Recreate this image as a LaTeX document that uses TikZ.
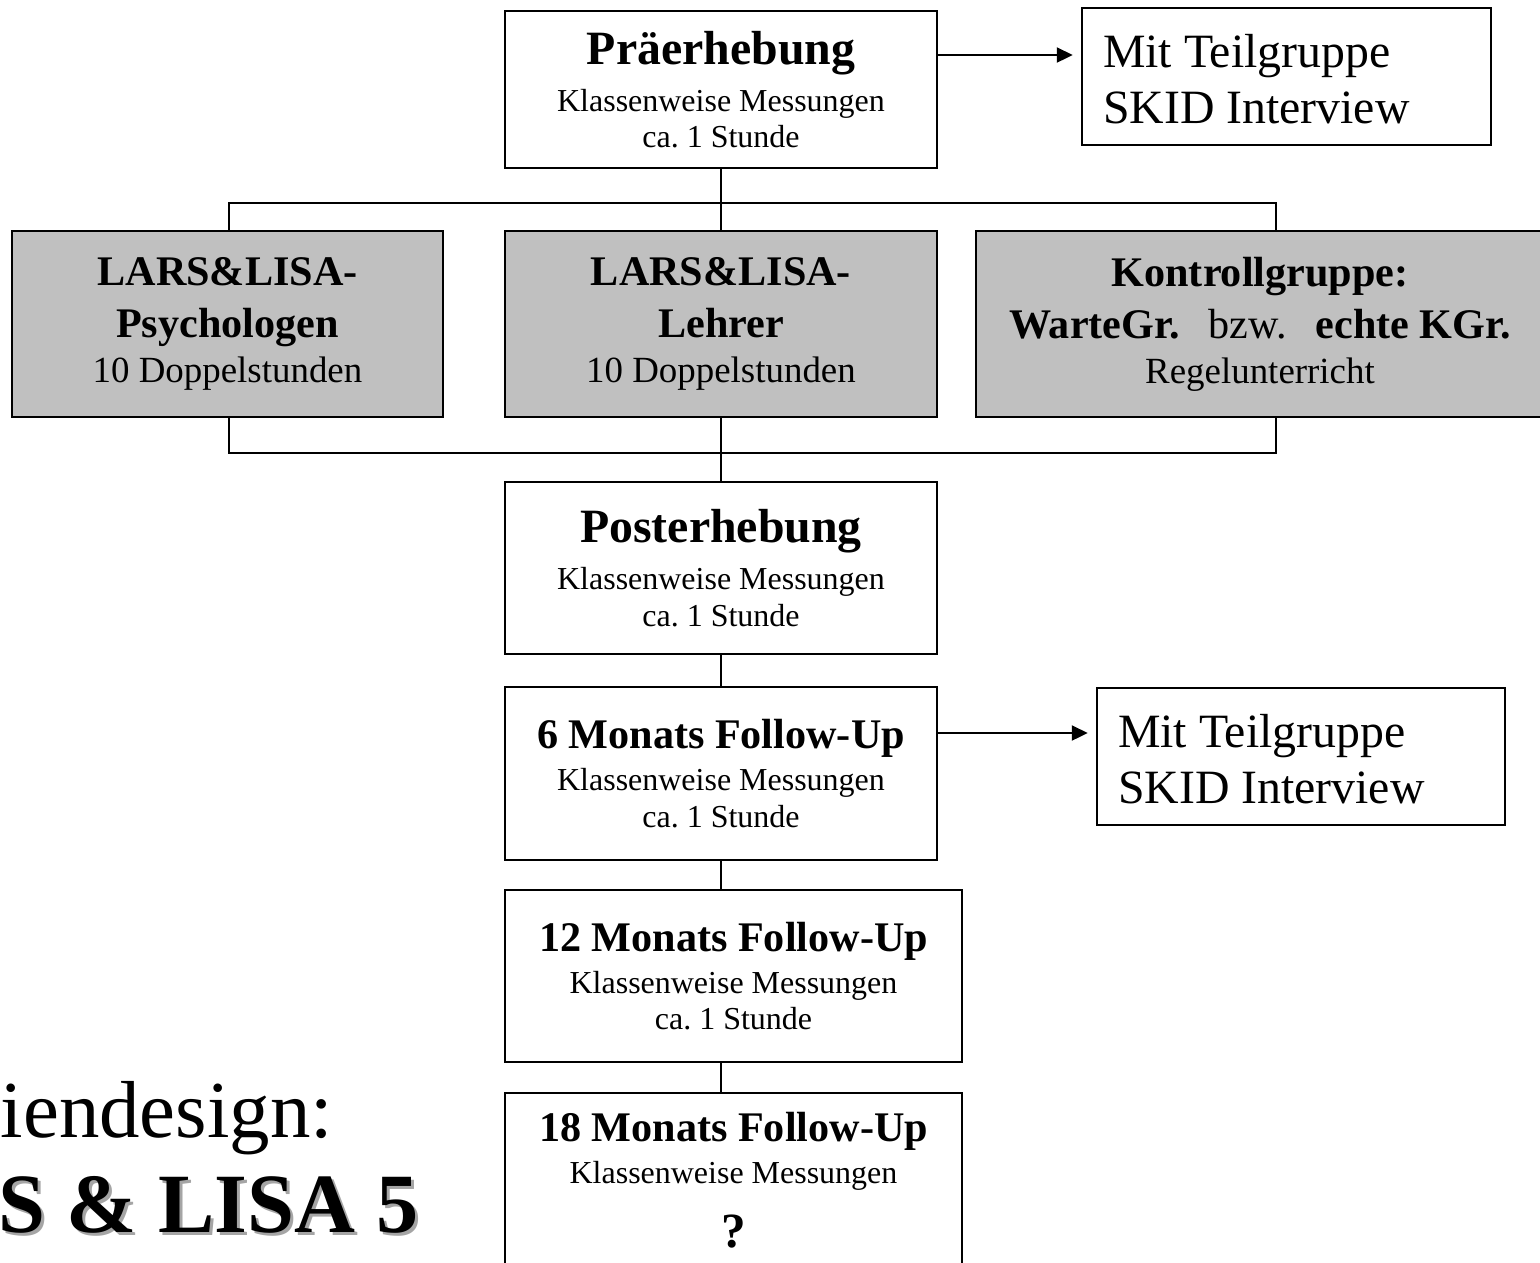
\documentclass[tikz,border=0pt]{standalone}
\usepackage{fontspec}
\setmainfont{Liberation Serif}
\usetikzlibrary{arrows.meta}
\frenchspacing
\definecolor{boxgray}{RGB}{192,192,192}
\definecolor{shadowgray}{RGB}{165,165,165}
\newcommand{\boxsmall}{\fontsize{9.1}{10.4}\selectfont}
\newcommand{\boxmid}{\fontsize{10.5}{12.8}\selectfont}
\newcommand{\bigtitle}[1]{{\fontsize{13.6}{16}\selectfont\bfseries #1}}
\newcommand{\grouptitle}[1]{{\fontsize{12}{14}\selectfont\bfseries #1}}
\begin{document}
\begin{tikzpicture}[x=0.1mm,y=-0.1mm,
  stagebox/.style={draw,line width=0.7pt,align=center,inner sep=0pt,minimum width=43.2mm,minimum height=17.2mm,font=\boxsmall},
  groupbox/.style={stagebox,fill=boxgray,minimum height=18.6mm,font=\boxmid},
  notebox/.style={draw,line width=0.7pt,align=flush left,inner xsep=2.1mm,inner ysep=0pt,text width=36.7mm,minimum height=13.7mm,font=\fontsize{13.6}{15.9}\selectfont},
  wire/.style={line width=0.6pt},
  pointer/.style={wire,-{Triangle[length=1.6mm,width=1.5mm]},shorten >=0.8mm}]
\useasboundingbox (0,0) rectangle (1540,1262);
% stages
\node (pre) [stagebox,minimum height=15.7mm] at (721,89.5) {\bigtitle{Präerhebung}\\[3pt]Klassenweise Messungen\\ca. 1 Stunde};
\node (sub1) [notebox] at (1286.5,76.5) {\rule{0pt}{11pt}Mit Teilgruppe\\SKID Interview};
\node (grp1) [groupbox,minimum width=43.1mm] at (227.5,324) {\grouptitle{LARS\&LISA-}\\[2pt]\grouptitle{Psychologen}\\10 Doppelstunden};
\node (grp2) [groupbox] at (721,324) {\grouptitle{LARS\&LISA-}\\[2pt]\grouptitle{Lehrer}\\10 Doppelstunden};
\node (grp3) [groupbox,minimum width=56.8mm] at (1260,324) {\grouptitle{Kontrollgruppe:}\\[2pt]\grouptitle{WarteGr.}\ \ \hspace{3pt}{\fontsize{12}{14}\selectfont bzw.}\ \ \hspace{3pt}\grouptitle{echte KGr.}\\Regelunterricht};
\node (post) [stagebox] at (721,568) {\bigtitle{Posterhebung}\\[3pt]Klassenweise Messungen\\ca. 1 Stunde};
\node (fu6) [stagebox,minimum height=17.3mm] at (721,773.5) {\grouptitle{6 Monats Follow-Up}\\[1.5pt]Klassenweise Messungen\\ca. 1 Stunde};
\node (sub2) [notebox,text width=36.6mm] at (1301,756.5) {\rule{0pt}{11pt}Mit Teilgruppe\\SKID Interview};
\node (fu12) [stagebox,minimum width=45.7mm] at (733.5,976) {\grouptitle{12 Monats Follow-Up}\\[1.5pt]Klassenweise Messungen\\ca. 1 Stunde};
\node (fu18) [stagebox,minimum width=45.7mm,minimum height=17.5mm] at (733.5,1180.5) {\grouptitle{18 Monats Follow-Up}\\[1.5pt]Klassenweise Messungen\\[6pt]{\fontsize{14}{16}\selectfont\bfseries ?}};
% connectors
\coordinate (tl) at (229,203);
\coordinate (tr) at (1276,203);
\coordinate (bl) at (229,453);
\coordinate (br) at (1276,453);
\draw[wire] (pre.south) -- (pre.south |- tl);
\draw[wire] (tl |- grp1.north) -- (tl) -- (tr) -- (tr |- grp3.north);
\draw[wire] (pre.south |- tl) -- (grp2.north);
\draw[wire] (bl |- grp1.south) -- (bl) -- (br) -- (br |- grp3.south);
\draw[wire] (grp2.south) -- (post.north);
\draw[wire] (post.south) -- (fu6.north);
\draw[wire] (fu6.south) -- (fu6.south |- fu12.north);
\draw[wire] (fu6.south |- fu12.south) -- (fu6.south |- fu18.north);
\draw[pointer] ([yshift=3.45mm]pre.east) -- ([yshift=3.45mm]pre.east -| sub1.west);
\draw[pointer] ([yshift=4.05mm]fu6.east) -- ([yshift=4.05mm]fu6.east -| sub2.west);
% title
\node (subtitle) [anchor=base west,inner sep=0pt,font=\fontsize{23}{28}\selectfont] at (0,1137) {iendesign:};
\node (titleshade) [anchor=base east,inner sep=0pt,text=shadowgray,font=\fontsize{24}{28}\selectfont\bfseries] at (422,1235) {S \& LISA 5};
\node (title) [anchor=base east,inner sep=0pt,font=\fontsize{24}{28}\selectfont\bfseries] at (419,1232) {S \& LISA 5};
\end{tikzpicture}
\end{document}
